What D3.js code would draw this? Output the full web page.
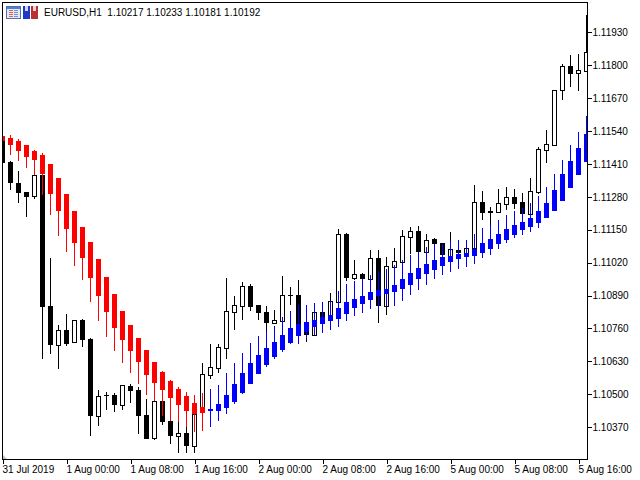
<!DOCTYPE html>
<html>
<head>
<meta charset="utf-8">
<script src="https://cdn.jsdelivr.net/npm/d3@7"></script>
<style>
html, body { margin: 0; padding: 0; background: #fff; overflow: hidden; }
svg { display: block; }
text { font-family: "Liberation Sans", sans-serif; font-size: 10px; fill: #000; }
</style>
</head>
<body>
<div id="chart"></div>
<script>
var chart_title = "EURUSD,H1  1.10217 1.10233 1.10181 1.10192";
var price_ticks = [1.1193, 1.118, 1.1167, 1.1154, 1.1141, 1.1128, 1.1115, 1.1102, 1.1089, 1.1076, 1.1063, 1.105, 1.1037];
var time_ticks = [0, 8, 16, 24, 32, 40, 48, 56, 64, 72];
var time_labels = ["31 Jul 2019", "1 Aug 00:00", "1 Aug 08:00", "1 Aug 16:00", "2 Aug 00:00", "2 Aug 08:00", "2 Aug 16:00", "5 Aug 00:00", "5 Aug 08:00", "5 Aug 16:00"];

// EURUSD H1 candles, one row per bar
var opens = [1.11513,1.11418,1.11335,1.11300,1.11284,1.11367,1.10849,1.10695,1.10754,1.10707,
  1.10794,1.10719,1.10415,1.10498,1.10498,1.10458,1.10533,1.10518,1.10419,1.10328,
  1.10474,1.10395,1.10336,1.10348,1.10296,1.10446,1.10577,1.10604,1.10683,1.10826,
  1.10849,1.10928,1.10853,1.10826,1.10782,1.10790,1.10893,1.10893,1.10774,1.10735,
  1.10826,1.10810,1.10865,1.11134,1.10960,1.10976,1.10956,1.11039,1.10849,1.11003,
  1.11023,1.11122,1.11146,1.11063,1.11114,1.11098,1.11043,1.11070,1.11055,1.11078,
  1.11260,1.11225,1.11221,1.11252,1.11280,1.11260,1.11213,1.11300,1.11466,1.11485,
  1.11703,1.11797,1.11770,1.11778];
var highs = [1.11521,1.11422,1.11383,1.11300,1.11367,1.11367,1.11039,1.10774,1.10818,1.10794,
  1.10798,1.10723,1.10518,1.10510,1.10506,1.10537,1.10541,1.10529,1.10482,1.10474,
  1.10474,1.10395,1.10391,1.10371,1.10423,1.10624,1.10699,1.10699,1.10960,1.10889,
  1.10944,1.10936,1.10853,1.10849,1.10834,1.10968,1.10924,1.10952,1.10774,1.10826,
  1.10826,1.10901,1.11153,1.11138,1.11031,1.10980,1.11070,1.11070,1.11043,1.11078,
  1.11150,1.11161,1.11165,1.11134,1.11118,1.11098,1.11142,1.11070,1.11078,1.11327,
  1.11304,1.11240,1.11311,1.11319,1.11311,1.11296,1.11355,1.11477,1.11544,1.11703,
  1.11805,1.11841,1.11845,1.11999];
var lows = [1.11406,1.11308,1.11256,1.11201,1.11272,1.10640,1.10660,1.10600,1.10691,1.10707,
  1.10687,1.10336,1.10375,1.10439,1.10431,1.10439,1.10466,1.10344,1.10324,1.10320,
  1.10379,1.10304,1.10269,1.10269,1.10269,1.10446,1.10561,1.10585,1.10640,1.10754,
  1.10794,1.10830,1.10794,1.10750,1.10778,1.10790,1.10853,1.10699,1.10707,1.10731,
  1.10790,1.10810,1.10865,1.10948,1.10952,1.10956,1.10956,1.10782,1.10814,1.11003,
  1.11023,1.11055,1.11063,1.11063,1.11094,1.11051,1.11043,1.11059,1.11055,1.11078,
  1.11189,1.11114,1.11221,1.11229,1.11232,1.11213,1.11213,1.11292,1.11414,1.11481,
  1.11663,1.11714,1.11699,1.11778];
var closes = [1.11414,1.11335,1.11296,1.11280,1.11367,1.10845,1.10695,1.10754,1.10699,1.10794,
  1.10715,1.10415,1.10494,1.10494,1.10458,1.10537,1.10514,1.10415,1.10324,1.10474,
  1.10391,1.10336,1.10348,1.10296,1.10423,1.10581,1.10608,1.10687,1.10830,1.10853,
  1.10928,1.10845,1.10822,1.10782,1.10794,1.10893,1.10889,1.10735,1.10735,1.10826,
  1.10794,1.10869,1.11134,1.10960,1.10976,1.10956,1.11039,1.10849,1.11007,1.11027,
  1.11126,1.11146,1.11063,1.11110,1.11094,1.11051,1.11074,1.11059,1.11078,1.11260,
  1.11217,1.11217,1.11256,1.11280,1.11252,1.11213,1.11304,1.11469,1.11489,1.11703,
  1.11797,1.11766,1.11781,1.11853];

// smoothed candles drawn over the price, red falling and blue rising
var smooth_opens = [1.11521,1.11513,1.11501,1.11485,1.11462,1.11446,1.11410,1.11355,1.11292,1.11225,
  1.11161,1.11102,1.11035,1.10964,1.10897,1.10830,1.10774,1.10723,1.10675,1.10628,
  1.10589,1.10553,1.10521,1.10494,1.10466,1.10450,1.10435,1.10435,1.10446,1.10470,
  1.10506,1.10541,1.10581,1.10616,1.10648,1.10675,1.10703,1.10731,1.10747,1.10766,
  1.10778,1.10790,1.10798,1.10818,1.10841,1.10857,1.10873,1.10889,1.10897,1.10905,
  1.10916,1.10932,1.10956,1.10976,1.10991,1.11007,1.11023,1.11035,1.11043,1.11047,
  1.11059,1.11074,1.11094,1.11110,1.11130,1.11150,1.11161,1.11177,1.11197,1.11225,
  1.11264,1.11315,1.11367,1.11418];
var smooth_highs = [1.11521,1.11525,1.11509,1.11485,1.11466,1.11454,1.11410,1.11355,1.11292,1.11225,
  1.11161,1.11102,1.11035,1.10964,1.10897,1.10830,1.10774,1.10723,1.10675,1.10628,
  1.10593,1.10557,1.10529,1.10510,1.10498,1.10506,1.10521,1.10537,1.10585,1.10624,
  1.10664,1.10703,1.10731,1.10750,1.10770,1.10806,1.10830,1.10853,1.10853,1.10861,
  1.10865,1.10869,1.10908,1.10936,1.10948,1.10956,1.10972,1.10988,1.10995,1.11011,
  1.11031,1.11051,1.11063,1.11082,1.11094,1.11094,1.11106,1.11110,1.11110,1.11134,
  1.11157,1.11169,1.11189,1.11209,1.11225,1.11236,1.11256,1.11284,1.11319,1.11371,
  1.11426,1.11485,1.11537,1.11600];
var smooth_lows = [1.11501,1.11446,1.11422,1.11394,1.11367,1.11288,1.11209,1.11126,1.11063,1.11007,
  1.10952,1.10865,1.10790,1.10727,1.10671,1.10624,1.10585,1.10541,1.10498,1.10474,
  1.10415,1.10395,1.10391,1.10371,1.10352,1.10356,1.10371,1.10395,1.10423,1.10462,
  1.10502,1.10541,1.10581,1.10608,1.10640,1.10668,1.10699,1.10699,1.10723,1.10735,
  1.10743,1.10754,1.10766,1.10790,1.10810,1.10822,1.10837,1.10834,1.10849,1.10849,
  1.10869,1.10893,1.10913,1.10932,1.10956,1.10972,1.10984,1.10995,1.11003,1.11015,
  1.11039,1.11051,1.11074,1.11098,1.11118,1.11130,1.11142,1.11157,1.11197,1.11225,
  1.11264,1.11315,1.11367,1.11418];
var smooth_closes = [1.11501,1.11485,1.11462,1.11438,1.11426,1.11371,1.11292,1.11225,1.11153,1.11098,
  1.11039,1.10960,1.10889,1.10826,1.10762,1.10715,1.10671,1.10628,1.10577,1.10545,
  1.10518,1.10486,1.10458,1.10435,1.10423,1.10427,1.10442,1.10462,1.10498,1.10541,
  1.10585,1.10624,1.10656,1.10683,1.10707,1.10735,1.10762,1.10778,1.10786,1.10794,
  1.10806,1.10814,1.10841,1.10865,1.10877,1.10889,1.10905,1.10913,1.10916,1.10932,
  1.10956,1.10980,1.10999,1.11015,1.11031,1.11043,1.11047,1.11055,1.11059,1.11074,
  1.11098,1.11114,1.11134,1.11153,1.11169,1.11181,1.11197,1.11225,1.11256,1.11308,
  1.11371,1.11422,1.11473,1.11529];

var width = 640, height = 480;
var left = 2.5, right = 587.5, top_y = 2.5, bottom = 459.5;

var svg = d3.select("#chart").append("svg")
    .attr("width", width)
    .attr("height", height);

var x = d3.scaleLinear().domain([0, 73]).range([2.5, 586.5]);
var y = d3.scaleLinear().domain([1.1193, 1.1037]).range([32.3, 427.2]);

svg.append("clipPath").attr("id", "plot")
    .append("rect")
    .attr("x", left).attr("y", top_y)
    .attr("width", right - left + 0.5).attr("height", bottom - top_y);

var plot = svg.append("g").attr("clip-path", "url(#plot)").attr("shape-rendering", "crispEdges");

function px(v) { return Math.round(y(v)); }

function drawCandles(cls, o, h, l, c, colorUp, colorDown, hollow) {
    var rows = d3.range(o.length).map(function(i) {
        return { i: i, o: o[i], h: h[i], l: l[i], c: c[i] };
    });
    var bar = plot.selectAll("." + cls).data(rows).enter().append("g").attr("class", cls);

    bar.append("rect")
        .attr("x", function(d) { return x(d.i) - 0.5; })
        .attr("width", 1)
        .attr("y", function(d) { return px(d.h); })
        .attr("height", function(d) { return Math.max(1, px(d.l) - px(d.h)); })
        .attr("fill", function(d) { return d.c >= d.o ? colorUp : colorDown; });

    bar.each(function(d) {
        var top = px(Math.max(d.o, d.c)), bot = px(Math.min(d.o, d.c));
        if (bot - top < 1) bot = top + 1;
        var g = d3.select(this);
        if (hollow && d.c >= d.o) {
            g.append("rect")
                .attr("x", x(d.i) - 2)
                .attr("y", top + 0.5)
                .attr("width", 4)
                .attr("height", bot - top)
                .attr("fill", "#fff")
                .attr("stroke", colorUp);
        } else {
            g.append("rect")
                .attr("x", x(d.i) - 2.5)
                .attr("y", top)
                .attr("width", 5)
                .attr("height", bot - top)
                .attr("fill", d.c >= d.o ? colorUp : colorDown);
        }
    });
}

drawCandles("price", opens, highs, lows, closes, "#000", "#000", true);
drawCandles("smooth", smooth_opens, smooth_highs, smooth_lows, smooth_closes, "#0000ff", "#ff0000", false);

// small grey marker in the lower left corner
svg.append("path")
    .attr("d", "M3,455L7,459L3,459Z")
    .attr("fill", "#c0c0c0");

// frame
svg.append("rect")
    .attr("x", left).attr("y", top_y)
    .attr("width", right - left).attr("height", bottom - top_y)
    .attr("fill", "none").attr("stroke", "#000")
    .attr("shape-rendering", "crispEdges");

var yaxis = svg.append("g")
    .attr("transform", "translate(" + right + ",0)")
    .call(d3.axisRight(y).tickValues(price_ticks).tickFormat(d3.format(".5f")).tickSize(4).tickPadding(1));
yaxis.select(".domain").remove();
yaxis.selectAll("line").attr("stroke", "#000").attr("shape-rendering", "crispEdges");
yaxis.selectAll("text").attr("font-family", null).attr("font-size", null);
yaxis.attr("font-family", null).attr("font-size", null);

var xaxis = svg.append("g")
    .attr("transform", "translate(0," + bottom + ")")
    .call(d3.axisBottom(x).tickValues(time_ticks)
        .tickFormat(function(d, i) { return time_labels[i]; }).tickSize(4).tickPadding(2));
xaxis.select(".domain").remove();
xaxis.selectAll("line").attr("stroke", "#000").attr("shape-rendering", "crispEdges");
xaxis.selectAll("text").attr("text-anchor", "start").attr("dx", "-0.5");
xaxis.attr("font-family", null).attr("font-size", null);

// title and the two toolbar icons
svg.append("text").attr("x", 44).attr("y", 16).attr("xml:space", "preserve").style("white-space", "pre").text(chart_title);

var icons = svg.append("g").attr("shape-rendering", "crispEdges");
icons.append("rect").attr("x", 6.5).attr("y", 6.5).attr("width", 14).attr("height", 12).attr("fill", "#e8e8f4").attr("stroke", "#5070b0");
icons.append("rect").attr("x", 7).attr("y", 7).attr("width", 13).attr("height", 2).attr("fill", "#5080d0");
[10, 12, 14, 16].forEach(function(v) {
    icons.append("rect").attr("x", 9).attr("y", v).attr("width", 4).attr("height", 1).attr("fill", "#e06050");
    icons.append("rect").attr("x", 14).attr("y", v).attr("width", 4).attr("height", 1).attr("fill", "#7090d8");
});
icons.append("rect").attr("x", 23).attr("y", 6).attr("width", 7).attr("height", 13).attr("fill", "#2038c8");
icons.append("rect").attr("x", 31).attr("y", 6).attr("width", 7).attr("height", 13).attr("fill", "#b83030");
icons.append("rect").attr("x", 25).attr("y", 6).attr("width", 3).attr("height", 5).attr("fill", "#d0d8f0");
icons.append("rect").attr("x", 33).attr("y", 6).attr("width", 3).attr("height", 5).attr("fill", "#f0d0d0");
</script>
</body>
</html>
